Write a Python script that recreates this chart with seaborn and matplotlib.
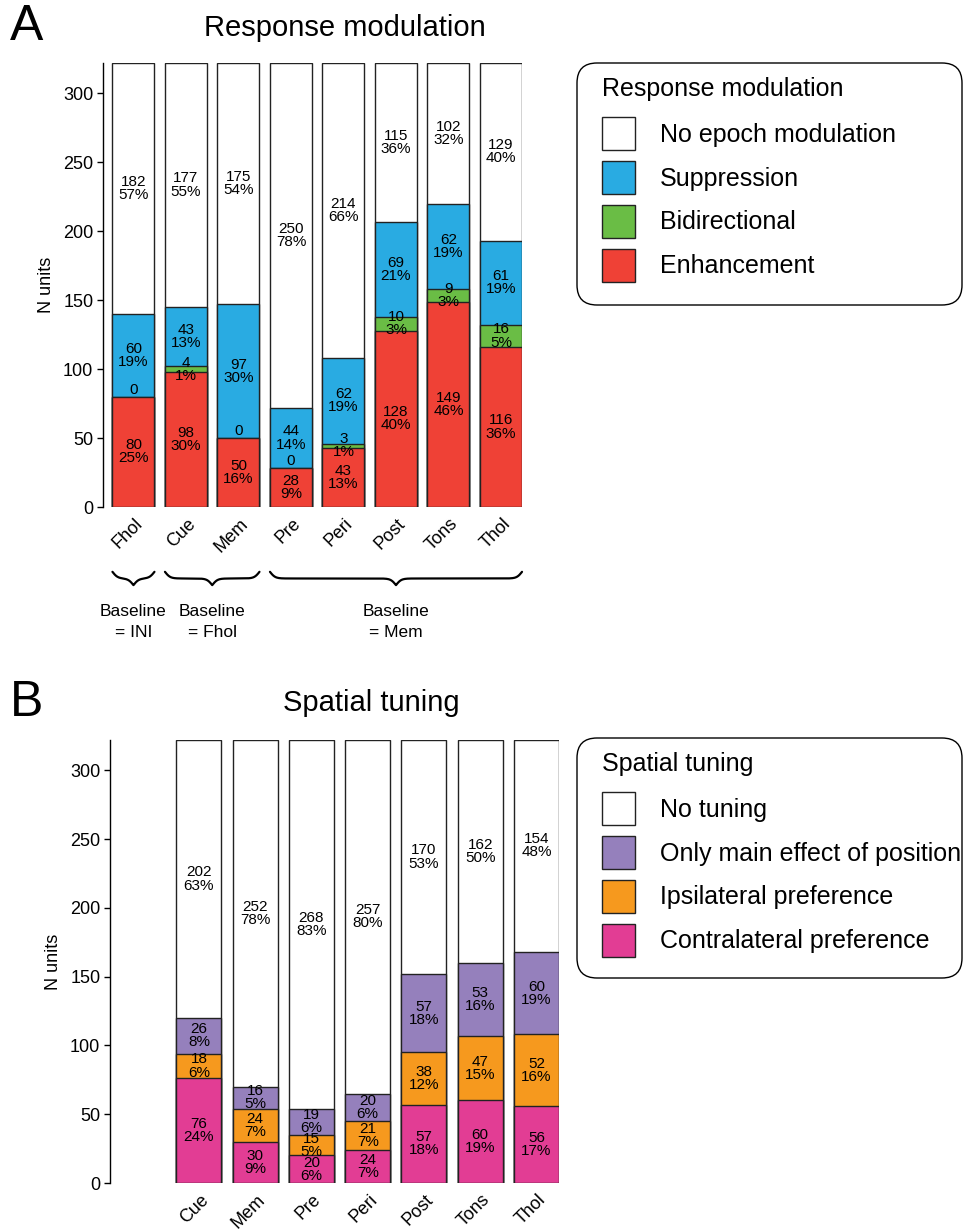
import matplotlib
matplotlib.use("Agg")
import matplotlib.pyplot as plt
import matplotlib.transforms as mtransforms
from matplotlib.patches import FancyBboxPatch, Patch
import numpy as np
import pandas as pd
import seaborn as sns

# %% data -----------------------------------------------------------------
# Panel A: response modulation, stacked bottom -> top
epochs_a = ["Fhol", "Cue", "Mem", "Pre", "Peri", "Post", "Tons", "Thol"]
enhancement = [80, 98, 50, 28, 43, 128, 149, 116]
bidirectional = [0, 4, 0, 0, 3, 10, 9, 16]
suppression = [60, 43, 97, 44, 62, 69, 62, 61]
no_modulation = [182, 177, 175, 250, 214, 115, 102, 129]

# Panel B: spatial tuning, stacked bottom -> top (no Fhol bar)
epochs_b = ["Cue", "Mem", "Pre", "Peri", "Post", "Tons", "Thol"]
contra_pref = [76, 30, 20, 24, 57, 60, 56]
ipsi_pref = [18, 24, 15, 21, 38, 47, 52]
main_effect = [26, 16, 19, 20, 57, 53, 60]
no_tuning = [202, 252, 268, 257, 170, 162, 154]

yticks = [0, 50, 100, 150, 200, 250, 300]

# brace groups under panel A (first epoch, last epoch, label)
baseline_groups = [
    ("Fhol", "Fhol", "Baseline\n= INI"),
    ("Cue", "Mem", "Baseline\n= Fhol"),
    ("Pre", "Thol", "Baseline\n= Mem"),
]

# %% style ----------------------------------------------------------------
sns.set_style("ticks")
plt.rcParams.update(
    {
        "font.family": ["Liberation Sans", "DejaVu Sans"],
        "axes.edgecolor": "black",
        "axes.linewidth": 1.0,
        "xtick.color": "black",
        "ytick.color": "black",
        "text.color": "black",
        "axes.labelcolor": "black",
    }
)

COLORS_A = ["#EF4136", "#6ABD45", "#29ABE2", "#FFFFFF"]
COLORS_B = ["#E23D94", "#F6991E", "#9580BC", "#FFFFFF"]
EDGE = "#222222"

W, H = 963, 1229
fig = plt.figure(figsize=(W / 100, H / 100), dpi=100)


def fig_box(left, top, right, bottom):
    """Axes rectangle from pixel edges."""
    return [left / W, 1 - bottom / H, (right - left) / W, (bottom - top) / H]


def stacked(ax, epochs, order, layers, names, colors):
    df = pd.DataFrame({"epoch": epochs})
    for name, vals in zip(names, layers):
        df[name] = vals
    cum = df[names].cumsum(axis=1)
    cum["epoch"] = df["epoch"]
    # draw the tallest stack first, then overlay the lower ones
    for name, color in reversed(list(zip(names, colors))):
        sns.barplot(
            data=cum, x="epoch", y=name, order=order, color=color,
            saturation=1, width=0.8, edgecolor=EDGE, linewidth=1.0, ax=ax,
        )
    totals = df[names].sum(axis=1)
    for i, ep in enumerate(epochs):
        pos = order.index(ep)
        bottom = 0
        for name in names:
            n = int(df.loc[i, name])
            if n == 0:
                ax.text(pos, bottom, "0", ha="center", va="bottom", fontsize=11)
            else:
                pct = int(n / totals[i] * 100 + 0.5)
                ax.text(pos, bottom + n / 2, f"{n}\n{pct}%", ha="center",
                        va="center", fontsize=11, linespacing=0.92)
            bottom += n

    ax.set_xlim(-0.58, len(order) - 0.6)
    ax.set_ylim(0, totals.max())
    ax.set_yticks(yticks, labels=[str(v) for v in yticks], fontsize=13)
    ax.tick_params(axis="y", length=4, width=1, pad=3)
    ax.set_ylabel("N units", fontsize=13, labelpad=6)
    ax.set_xlabel("")
    shown = [order.index(e) for e in epochs]
    ax.set_xticks(shown)
    ax.set_xticklabels(epochs, rotation=45, ha="right", va="center",
                       rotation_mode="anchor", fontsize=13)
    ax.tick_params(axis="x", length=0, pad=14)
    shift = mtransforms.ScaledTranslation(0.07, 0.05, fig.dpi_scale_trans)
    for lab in ax.get_xticklabels():
        lab.set_transform(lab.get_transform() + shift)
    for s in ["top", "right", "bottom"]:
        ax.spines[s].set_visible(False)


def legend(title, labels, colors, left, top, right, bottom):
    # rounded frame drawn separately so its size can match the reference
    frame = FancyBboxPatch(
        (left / 100, (H - bottom) / 100), (right - left) / 100, (bottom - top) / 100,
        boxstyle="round,pad=0,rounding_size=0.2", transform=fig.dpi_scale_trans,
        facecolor="white", edgecolor="black", linewidth=1.0, zorder=0,
    )
    fig.patches.append(frame)
    handles = [Patch(facecolor=c, edgecolor=EDGE, linewidth=1.0) for c in colors]
    leg = fig.legend(
        handles, labels, title=title, loc="upper left",
        bbox_to_anchor=((left + 25) / W, 1 - (top + 14) / H),
        bbox_transform=fig.transFigure, borderaxespad=0, borderpad=0,
        fontsize=18, title_fontsize=18, alignment="left",
        handlelength=1.32, handleheight=1.65, handletextpad=1.0,
        labelspacing=0.44, frameon=False,
    )
    # a little more room between the title and the first entry
    leg._legend_box.sep = 11.5
    return leg


def brace(ax, x0, x1, y_top, depth, beta=20):
    half = (x1 - x0) / 2
    xs = np.linspace(0, half, 200)
    ys = 1 / (1 + np.exp(-beta * xs)) + 1 / (1 + np.exp(-beta * (xs - half))) - 0.5
    x = np.concatenate([x0 + xs, x1 - xs[::-1]])
    y = np.concatenate([ys, ys[::-1]])
    trans = mtransforms.blended_transform_factory(ax.transData, ax.transAxes)
    ax.plot(x, y_top - depth * y, color="black", lw=1.6, transform=trans,
            clip_on=False, solid_capstyle="round")


# %% panel A --------------------------------------------------------------
ax_a = fig.add_axes(fig_box(103, 63, 522, 507))
names_a = ["Enhancement", "Bidirectional", "Suppression", "No epoch modulation"]
stacked(ax_a, epochs_a, epochs_a,
        [enhancement, bidirectional, suppression, no_modulation], names_a, COLORS_A)

trans_a = mtransforms.blended_transform_factory(ax_a.transData, ax_a.transAxes)
for first, last, label in baseline_groups:
    x0 = epochs_a.index(first) - 0.4
    x1 = epochs_a.index(last) + 0.4
    brace(ax_a, x0, x1, -0.146, 0.030)
    ax_a.text((x0 + x1) / 2, -0.259, label, transform=trans_a, ha="center",
              va="center", fontsize=12.5, linespacing=1.45)

legend("Response modulation", names_a[::-1], COLORS_A[::-1], 577, 63, 962, 305)

# %% panel B --------------------------------------------------------------
ax_b = fig.add_axes(fig_box(110, 740, 559, 1183))
names_b = ["Contralateral preference", "Ipsilateral preference",
           "Only main effect of position", "No tuning"]
stacked(ax_b, epochs_b, epochs_a,
        [contra_pref, ipsi_pref, main_effect, no_tuning], names_b, COLORS_B)

legend("Spatial tuning", names_b[::-1], COLORS_B[::-1], 577, 738, 962, 978)

# %% titles and panel letters ----------------------------------------------
fig.text(345 / W, 1 - 28 / H, "Response modulation", ha="center", va="center", fontsize=21)
fig.text(371 / W, 1 - 703 / H, "Spatial tuning", ha="center", va="center", fontsize=21)
fig.text(27 / W, 1 - 27 / H, "A", ha="center", va="center", fontsize=36)
fig.text(27 / W, 1 - 703 / H, "B", ha="center", va="center", fontsize=36)

fig.savefig("out.png", dpi=100)
